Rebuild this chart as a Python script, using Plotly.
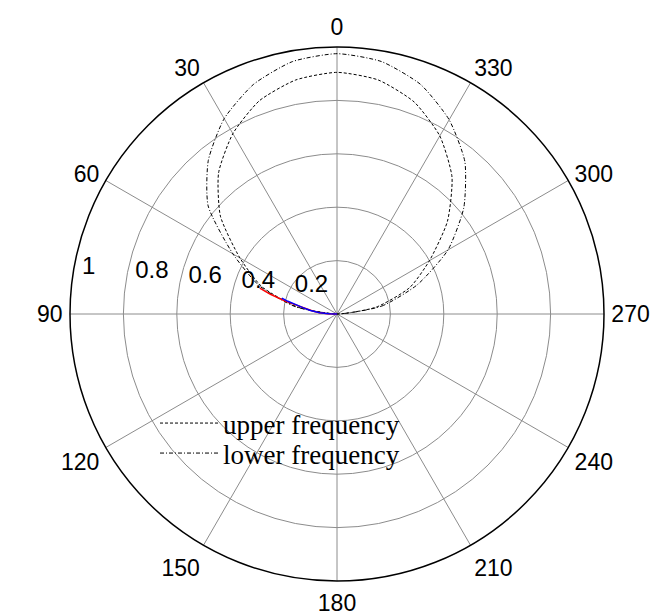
import plotly.graph_objects as go

# ---- data ----
ANG_TICKS = [0, 30, 60, 90, 120, 150, 180, 210, 240, 270, 300, 330]
ANG_LABELS = ["0", "30", "60", "90", "120", "150", "180", "210", "240", "270", "300", "330"]
RAD_TICKS = [0.2, 0.4, 0.6, 0.8, 1.0]
RAD_LABELS = ["0.2", "0.4", "0.6", "0.8", "1"]

# pattern angles (deg, 0 = top, counter-clockwise)
PAT_THETA = [270, 280, 290, 300, 310, 320, 330, 340, 350, 0, 10, 20, 30, 40, 50, 60, 70, 80, 90]
UPPER_R = [0.0, 0.15, 0.29, 0.40, 0.54, 0.67, 0.77, 0.845, 0.89, 0.905,
           0.89, 0.85, 0.78, 0.69, 0.57, 0.42, 0.30, 0.15, 0.0]
LOWER_R = [0.0, 0.17, 0.32, 0.48, 0.62, 0.745, 0.84, 0.915, 0.96, 0.975,
           0.96, 0.915, 0.845, 0.75, 0.63, 0.45, 0.31, 0.16, 0.0]

RED_THETA = [71.5, 73.5, 76, 78, 83, 86, 88.5, 90]
RED_R = [0.305, 0.26, 0.20, 0.15, 0.092, 0.066, 0.035, 0.0]
BLUE_THETA = [74, 75.5, 77, 79.5, 82.5, 86, 89, 90]
BLUE_R = [0.215, 0.19, 0.16, 0.13, 0.10, 0.065, 0.03, 0.0]

SERIES_NAMES = ["upper frequency", "lower frequency"]

fig = go.Figure()

fig.add_trace(go.Scatterpolar(
    r=UPPER_R, theta=PAT_THETA, mode="lines", name=SERIES_NAMES[0], legend="legend",
    line=dict(color="black", width=1, dash="3px,2px", shape="spline", smoothing=0.6),
))
fig.add_trace(go.Scatterpolar(
    r=LOWER_R, theta=PAT_THETA, mode="lines", name=SERIES_NAMES[1], legend="legend2",
    line=dict(color="black", width=1, dash="4px,2px,1px,2px", shape="spline", smoothing=0.6),
))
fig.add_trace(go.Scatterpolar(
    r=RED_R, theta=RED_THETA, mode="lines", showlegend=False,
    line=dict(color="red", width=1.5),
))
fig.add_trace(go.Scatterpolar(
    r=BLUE_R, theta=BLUE_THETA, mode="lines", showlegend=False,
    line=dict(color="blue", width=1.5),
))
# radial tick labels (MATLAB style, placed near the 85 deg line)
fig.add_trace(go.Scatterpolar(
    r=RAD_TICKS, theta=[85] * len(RAD_TICKS), mode="markers+text",
    text=RAD_LABELS, textposition="top right", showlegend=False, hoverinfo="skip",
    marker=dict(size=16, color="rgba(0,0,0,0)"),
    textfont=dict(family="Liberation Sans, Arial", size=24, color="black"),
))

W, H = 658, 616
OFF = 8  # page body margin of the html page
cx, cy, R = 337 - OFF, 314 - OFF, 267

legend_common = dict(
    xanchor="left", yanchor="top", bgcolor="rgba(0,0,0,0)", borderwidth=0,
    itemwidth=58, font=dict(family="Liberation Serif, Times New Roman", size=27, color="black"),
)

fig.update_layout(
    width=W, height=H,
    margin=dict(l=0, r=0, t=0, b=0),
    paper_bgcolor="white",
    plot_bgcolor="white",
    font=dict(family="Liberation Sans, Arial", size=22, color="black"),
    polar=dict(
        domain=dict(x=[(cx - R) / W, (cx + R) / W], y=[1 - (cy + R) / H, 1 - (cy - R) / H]),
        bgcolor="white",
        angularaxis=dict(
            rotation=90, direction="counterclockwise",
            tickmode="array", tickvals=ANG_TICKS, ticktext=ANG_LABELS,
            ticks="outside", ticklen=2, tickcolor="rgba(0,0,0,0)",
            showline=True, linecolor="black", linewidth=1.5,
            showgrid=True, gridcolor="#8c8c8c", gridwidth=1,
            tickfont=dict(family="Liberation Sans, Arial", size=23, color="black"),
        ),
        radialaxis=dict(
            range=[0, 1], tickmode="array", tickvals=RAD_TICKS,
            showticklabels=False, ticks="", showline=False,
            showgrid=True, gridcolor="#8c8c8c", gridwidth=1,
        ),
    ),
    legend=dict(x=(155 - OFF) / W, y=1 - (399 - OFF) / H, **legend_common),
    legend2=dict(x=(155 - OFF) / W, y=1 - (429 - OFF) / H, **legend_common),
    showlegend=True,
)

fig.write_html("out.html")
